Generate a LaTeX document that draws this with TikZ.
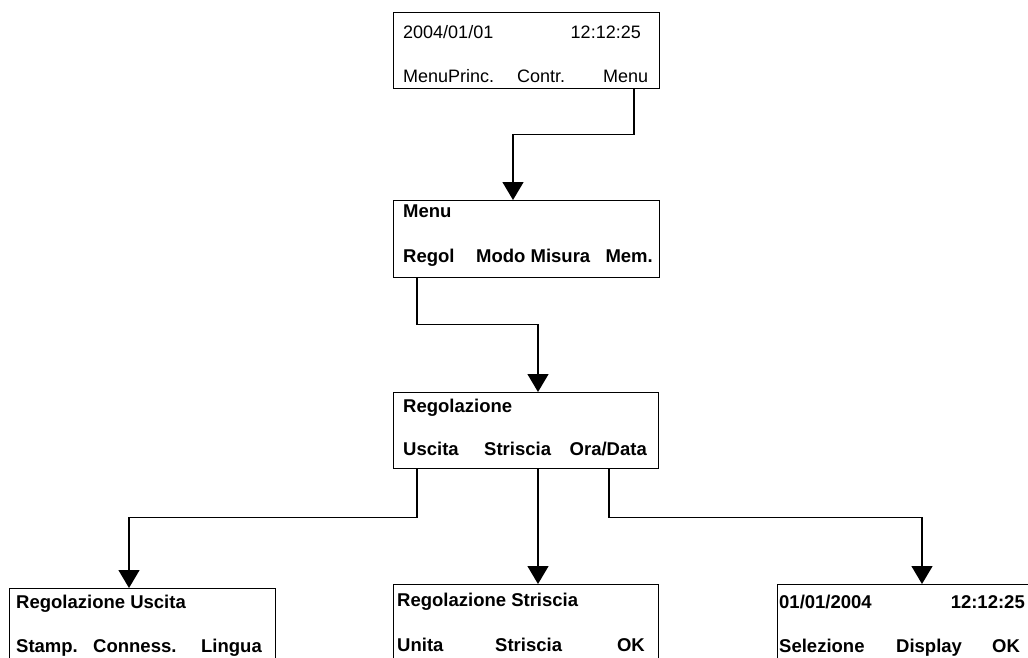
\documentclass[tikz,border=0pt]{standalone}
\usepackage{fontspec}
\setmainfont{Liberation Sans}
\usetikzlibrary{arrows.meta}
\begin{document}
\begin{tikzpicture}[x=1pt,y=-1pt,
  box/.style={draw, line width=1.4pt, inner sep=0pt, anchor=north west, minimum width=266pt, minimum height=76pt},
  txt/.style={inner sep=0pt, anchor=base west, font=\fontsize{18}{20}\selectfont},
  txtr/.style={txt, anchor=base east},
  btxt/.style={txt, font=\fontsize{18.5}{20}\selectfont\bfseries},
  btxtr/.style={btxt, anchor=base east},
  conn/.style={line width=1.4pt, -{Triangle[length=18pt,width=21pt]}}]
\useasboundingbox (0,0) rectangle (1028,658);
\clip (0,0) rectangle (1028,658);
% boxes
\node[box] (b1) at (393,12) {};
\node[box, minimum height=77pt] (b2) at (393,200) {};
\node[box, minimum width=265pt] (b3) at (393,392) {};
\node[box, minimum height=90pt] (b4) at (9,588) {};
\node[box, minimum width=265pt, minimum height=90pt] (b5) at (393,584) {};
\node[box, minimum height=90pt] (b6) at (777,584) {};
% box 1
\node[txt] (t1a) at (403,39) {2004/01/01};
\node[txtr] (t1b) at (641,39) {12:12:25};
\node[txt] (t1c) at (403,83) {MenuPrinc.};
\node[txt] (t1d) at (517,83) {Contr.};
\node[txt] (t1e) at (603,83) {Menu};
% box 2
\node[btxt] (t2a) at (403,217) {Menu};
\node[btxt] (t2b) at (403,262) {Regol};
\node[btxt] (t2c) at (476,262) {Modo Misura};
\node[btxtr] (t2d) at (653,262) {Mem.};
% box 3
\node[btxt] (t3a) at (403,412) {Regolazione};
\node[btxt] (t3b) at (403,455) {Uscita};
\node[btxt] (t3c) at (484,455) {Striscia};
\node[btxtr] (t3d) at (647,455) {Ora/Data};
% box 4
\node[btxt] (t4a) at (16,608) {Regolazione Uscita};
\node[btxt] (t4b) at (16,652) {Stamp.};
\node[btxt] (t4c) at (93,652) {Conness.};
\node[btxtr] (t4d) at (262,652) {Lingua};
% box 5
\node[btxt] (t5a) at (397,606) {Regolazione Striscia};
\node[btxt] (t5b) at (397,651) {Unita};
\node[btxt] (t5c) at (495,651) {Striscia};
\node[btxtr] (t5d) at (645,651) {OK};
% box 6
\node[btxt] (t6a) at (779,608) {01/01/2004};
\node[btxtr] (t6b) at (1025,608) {12:12:25};
\node[btxt] (t6c) at (779,652) {Selezione};
\node[btxt] (t6d) at (896,652) {Display};
\node[btxt] (t6e) at (992,652) {OK};
% connector anchors
\coordinate (s1) at ([xshift=241pt]b1.south west);
\coordinate (e1) at ([xshift=120pt]b2.north west);
\coordinate (s2) at ([xshift=24pt]b2.south west);
\coordinate (e2) at ([xshift=145pt]b3.north west);
\coordinate (s3) at ([xshift=24pt]b3.south west);
\coordinate (e3) at ([xshift=120pt]b4.north west);
\coordinate (s4) at ([xshift=145pt]b3.south west);
\coordinate (e4) at ([xshift=145pt]b5.north west);
\coordinate (s5) at ([xshift=216pt]b3.south west);
\coordinate (e5) at ([xshift=145pt]b6.north west);
% connectors
\draw[conn] (s1) -- ++(0,45) -| (e1);
\draw[conn] (s2) -- ++(0,46) -| (e2);
\draw[conn] (s3) -- ++(0,48) -| (e3);
\draw[conn] (s4) -- (e4);
\draw[conn] (s5) -- ++(0,48) -| (e5);
\end{tikzpicture}
\end{document}
